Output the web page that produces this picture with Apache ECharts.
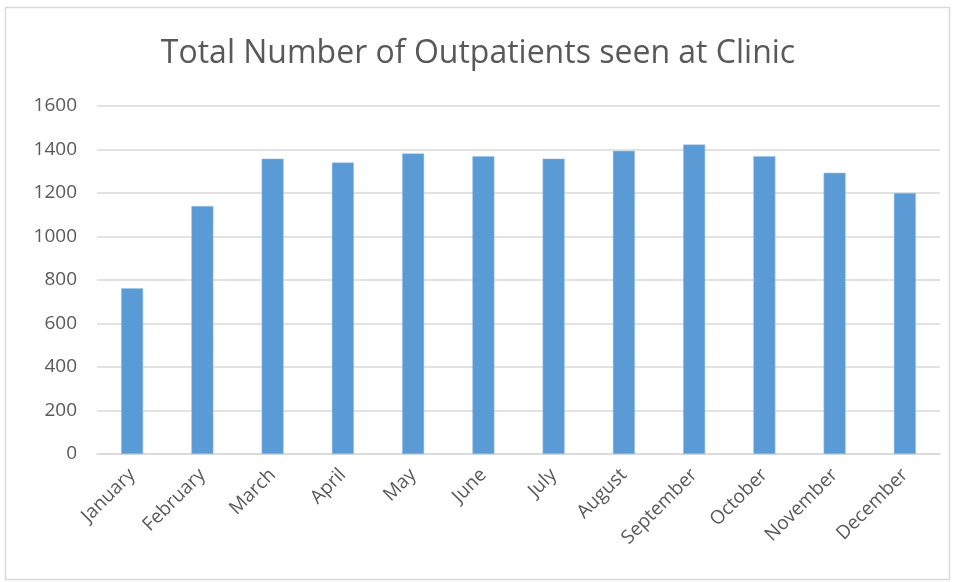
<!DOCTYPE html>
<html>
<head>
<meta charset="utf-8">
<script src="https://cdn.jsdelivr.net/npm/echarts@6/dist/echarts.min.js"></script>
<style>
  html, body { margin: 0; padding: 0; background: #fff; }
  #chart { width: 956px; height: 582px; }
</style>
</head>
<body>
<div id="chart"></div>
<script>
// 月份
var months = ['January', 'February', 'March', 'April', 'May', 'June',
  'July', 'August', 'September', 'October', 'November', 'December'];
// 门诊人数
var patients = [762, 1140, 1358, 1340, 1382, 1369, 1358, 1394, 1423, 1369, 1293, 1200];
var yTicks = [0, 200, 400, 600, 800, 1000, 1200, 1400, 1600];

var myChart = echarts.init(document.getElementById('chart'));
var font = '"Open Sans", "Liberation Sans", sans-serif';

var option = {
  animation: false,
  backgroundColor: '#fff',
  graphic: [{
    type: 'rect',
    shape: { x: 5.5, y: 7.5, width: 944, height: 572 },
    style: { fill: 'none', stroke: '#d9d9d9', lineWidth: 1.5 },
    silent: true
  }],
  title: {
    text: 'Total Number of Outpatients seen at Clinic',
    left: 'center',
    top: 33,
    textStyle: { fontFamily: font, fontSize: 32, fontWeight: 'normal', color: '#595959' }
  },
  grid: { left: 97, right: 16, top: 106, bottom: 128, containLabel: false },
  xAxis: {
    type: 'category',
    data: months,
    axisLine: { lineStyle: { color: '#d9d9d9', width: 1.5 } },
    axisTick: { show: false },
    axisLabel: {
      rotate: 45,
      margin: 18,
      fontFamily: font,
      fontSize: 19,
      color: '#595959',
      interval: 0
    }
  },
  yAxis: {
    type: 'value',
    min: yTicks[0],
    max: yTicks[yTicks.length - 1],
    interval: 200,
    axisLine: { show: false },
    axisTick: { show: false },
    splitLine: { lineStyle: { color: '#d9d9d9', width: 1.5 } },
    axisLabel: {
      fontFamily: font, fontSize: 19, color: '#595959', margin: 20,
      formatter: function (v) { return String(v); }
    }
  },
  series: [{
    type: 'bar',
    data: patients,
    barWidth: 22,
    itemStyle: { color: '#5b9bd5', borderColor: '#9dc3e6', borderWidth: 0.5 }
  }]
};
myChart.setOption(option);
</script>
</body>
</html>
